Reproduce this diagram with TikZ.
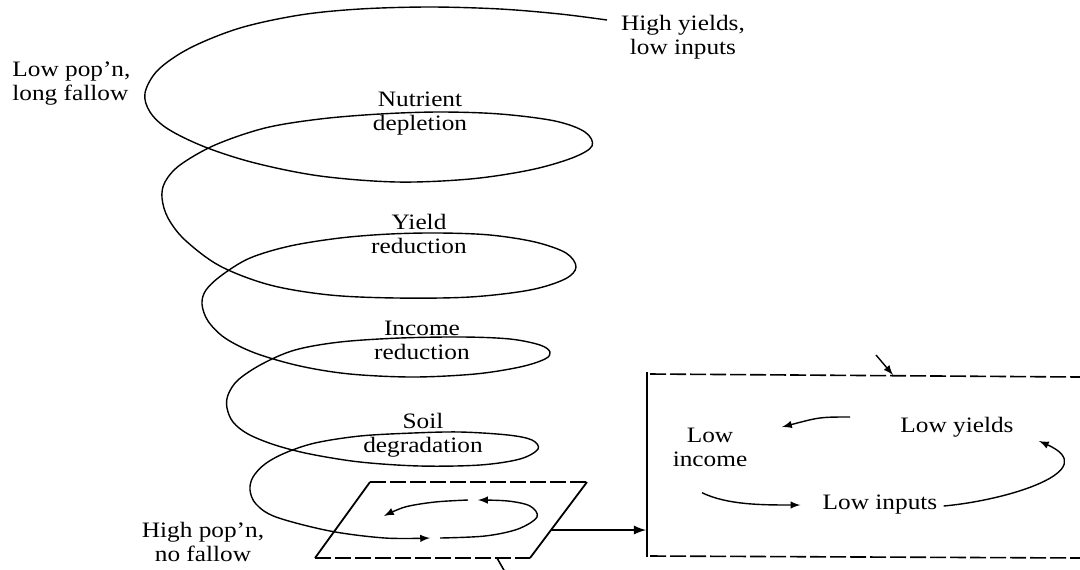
\documentclass[tikz,border=0pt]{standalone}
\usepackage{fontspec}
\setmainfont{Liberation Serif}[FakeStretch=1.15]
\usetikzlibrary{arrows}

\tikzset{
	etiq/.style={align=center, inner sep=0pt, font=\fontsize{11}{12}\selectfont},
	espiral/.style={line width=0.7pt},
	ciclo/.style={line width=0.7pt, -latex},
	borde/.style={line width=0.8pt, dash pattern=on 8pt off 2pt},
}

\begin{document}
\begin{tikzpicture}[x=0.5pt, y=-0.5pt]
	\useasboundingbox (0,0) rectangle (1080,569);

	%Etiquetas de la espiral
	\node[etiq, align=left, anchor=west] (lowpop) at (12,84) {Low pop'n,\\long fallow};
	\node[etiq] (highyld) at (683,37) {High yields,\\low inputs};
	\node[etiq] (nutr) at (420,114) {Nutrient\\depletion};
	\node[etiq] (yldred) at (419,234) {Yield\\reduction};
	\node[etiq] (incred) at (422,340) {Income\\reduction};
	\node[etiq] (soil) at (423,435) {Soil\\degradation};
	\node[etiq] (highpop) at (203,542) {High pop'n,\\no fallow};

	%La espiral, de arriba hacia abajo
	\draw[espiral, -latex] plot[smooth, tension=0.55] coordinates {
		(607,20) (560,14) (500,9) (430,7) (360,9) (300,15) (240,28) (190,48) (158,70)
		(145,93) (150,112) (168,129) (205,147) (255,163) (320,176) (397,182) (470,179)
		(530,170) (572,158) (592,146) (585,132) (555,121) (500,114) (440,112) (380,114)
		(320,119) (265,128) (215,145) (180,165) (165,182) (162,198) (168,218) (185,240)
		(220,266) (270,285) (330,295) (397,298) (470,297) (530,290) (565,279) (576,267)
		(566,253) (535,242) (490,235) (440,233) (390,234) (340,238) (290,246) (250,258)
		(222,275) (206,290) (202,304) (208,321) (225,338) (255,353) (300,366) (350,374)
		(413,377) (475,374) (520,367) (545,359) (550,352) (540,345) (510,339) (463,337)
		(400,338) (340,342) (295,350) (262,364) (238,380) (228,395) (227,408) (233,422)
		(248,434) (275,445) (310,454) (360,462) (420,466) (480,465) (520,459) (538,449)
		(532,440) (508,435) (460,432) (413,433) (360,436) (315,443) (285,453) (265,464)
		(253,477) (250,490) (256,504) (276,517) (330,531) (385,538) (430,538)};

	%Paralelogramo (plano de abajo)
	\coordinate (pTL) at (370,482);
	\coordinate (pTR) at (587,482);
	\coordinate (pBR) at (530,558);
	\coordinate (pBL) at (315,558);
	\draw[line width=0.9pt] (pTL) -- (pBL);
	\draw[line width=0.9pt] (pTR) -- (pBR);
	\draw[borde] (pTL) -- (pTR);
	\draw[borde] (pBL) -- (pBR);
	\draw[line width=0.8pt] (497,558) -- (505,572);

	%Ciclo dentro del plano
	\draw[ciclo] plot[smooth, tension=0.55] coordinates {
		(440,538) (485,536) (518,529) (537,517) (530,506) (508,501) (478,500)};
	\draw[ciclo] plot[smooth, tension=0.55] coordinates {
		(468,500) (435,502) (405,507) (384,516)};

	%Caja de la derecha
	\coordinate (pOut) at (551,530);
	\coordinate (bIn) at (646,530);
	\draw[line width=1.1pt, -latex] (pOut) -- (bIn);
	\draw[line width=1.1pt] (647,372) -- (647,557);
	\draw[borde] (650,374) -- (1080,377);
	\draw[borde] (650,556) -- (1080,558);
	\draw[ciclo] (876,355) -- (893,375);

	%Circulo vicioso
	\node[etiq] (inc) at (710,447) {Low\\income};
	\node[etiq] (lowyld) at (957,427) {Low yields};
	\node[etiq] (lowinp) at (880,505) {Low inputs};

	\draw[ciclo] ([shift={(-8,26)}]inc.south) .. controls +(25,12) and +(-40,0) .. ([shift={(-22,0)}]lowinp.west);
	\draw[ciclo] ([shift={(6,1)}]lowinp.east) .. controls +(66,-6) and +(65,29) .. ([shift={(25,14)}]lowyld.east);
	\draw[ciclo] ([shift={(-50,-10)}]lowyld.west) .. controls +(-30,0) .. ([shift={(-118,0)}]lowyld.west);
\end{tikzpicture}
\end{document}
